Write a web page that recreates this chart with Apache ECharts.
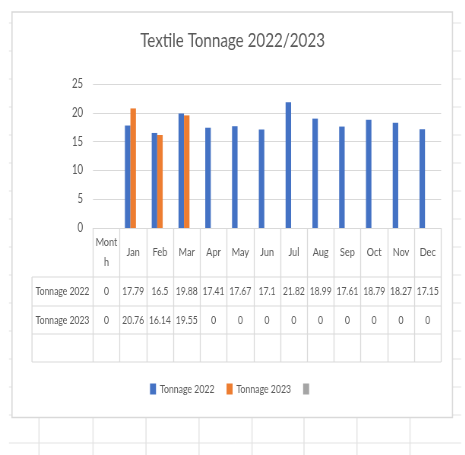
<!DOCTYPE html>
<html>
<head>
<meta charset="utf-8">
<script src="https://cdn.jsdelivr.net/npm/echarts@6/dist/echarts.min.js"></script>
<style>
  html, body { margin: 0; padding: 0; background: #fff; overflow: hidden; }
  #wrap { width: 465px; height: 455px; overflow: hidden; }
  /* the chart is laid out wide and then squeezed horizontally for a condensed look */
  #chart { height: 455px; transform-origin: 0 0; }
</style>
</head>
<body>
<div id="wrap"><div id="chart"></div></div>
<script>
// Monthly textile tonnage, 2022 vs 2023 (first column is the table's "Month" header cell)
const months = ['Month', 'Jan', 'Feb', 'Mar', 'Apr', 'May', 'Jun', 'Jul', 'Aug', 'Sep', 'Oct', 'Nov', 'Dec'];
const tonnage2022 = [0, 17.79, 16.5, 19.88, 17.41, 17.67, 17.1, 21.82, 18.99, 17.61, 18.79, 18.27, 17.15];
const tonnage2023 = [0, 20.76, 16.14, 19.55, 0, 0, 0, 0, 0, 0, 0, 0, 0];
const blankSeries = [];
const seriesNames = ['Tonnage 2022', 'Tonnage 2023', ' '];
const rowLabels = ['Tonnage 2022', 'Tonnage 2023', ''];
const yMin = 0, yMax = 25, yStep = 5;

// Horizontal squeeze factor; layout numbers below are in on-screen pixels
const SX = 0.76;
const sx = x => x / SX;
const W = 465, H = 455;
const plotLeft = 93, plotRight = 441, plotTop = 84, plotBottom = 228;
const tableLeft = 32;
const headerH = 49;
const rowH = [29, 28, 28];
const FONT = "Lato, 'Open Sans', sans-serif";
const TEXT = '#595959';
const LINE = '#D9D9D9';
const SHEET = '#E3E3E3';
const colors = ['#4472C4', '#ED7D31', '#A5A5A5'];

const el = document.getElementById('chart');
el.style.width = sx(W) + 'px';
el.style.transform = 'scaleX(' + SX + ')';

// row boundaries of the data table
const rowTops = [plotBottom + headerH];
rowH.forEach(h => rowTops.push(rowTops[rowTops.length - 1] + h));

const graphics = [];
// spreadsheet cells behind the chart object
for (let y = 23; y <= 444; y += 28) {
  graphics.push({ type: 'line', shape: { x1: sx(9), y1: y, x2: sx(461), y2: y }, style: { stroke: SHEET, lineWidth: 1 }, silent: true });
}
[39, 93, 146, 199, 252, 304, 357, 410].forEach(x => {
  graphics.push({ type: 'line', shape: { x1: sx(x), y1: 418, x2: sx(x), y2: H }, style: { stroke: SHEET, lineWidth: 1.4 }, silent: true });
});
// chart object frame
graphics.push({ type: 'rect', shape: { x: sx(12), y: 12, width: sx(440.5), height: 405.5 }, style: { fill: '#fff', stroke: LINE, lineWidth: 1.6 }, silent: true });
// data table rules
rowTops.forEach(y => {
  graphics.push({ type: 'line', shape: { x1: sx(tableLeft), y1: y, x2: sx(plotRight), y2: y }, style: { stroke: LINE, lineWidth: 1 }, silent: true, z: 5 });
});
graphics.push({ type: 'line', shape: { x1: sx(tableLeft), y1: rowTops[0], x2: sx(tableLeft), y2: rowTops[rowTops.length - 1] }, style: { stroke: LINE, lineWidth: 1.3 }, silent: true, z: 5 });
// row headers
rowLabels.forEach((t, i) => {
  graphics.push({
    type: 'text', z: 6,
    style: { text: t, x: sx((tableLeft + plotLeft) / 2), y: (rowTops[i] + rowTops[i + 1]) / 2, align: 'center', verticalAlign: 'middle', font: '11.3px ' + FONT, fill: TEXT },
    silent: true
  });
});

const tableValues = [tonnage2022, tonnage2023];
const rowAxes = tableValues.map((vals, i) => ({
  type: 'category',
  data: months,
  gridIndex: 0,
  position: 'bottom',
  offset: rowTops[i] - plotBottom,
  axisLine: { show: false },
  axisTick: { show: false },
  splitLine: { show: false },
  axisLabel: {
    interval: 0,
    hideOverlap: false,
    margin: (rowTops[i + 1] - rowTops[i]) / 2,
    verticalAlign: 'middle',
    fontFamily: FONT,
    fontSize: 11.3,
    color: TEXT,
    formatter: (v, idx) => String(vals[idx])
  }
}));

const chart = echarts.init(el, null, { renderer: 'canvas' });
chart.setOption({
  animation: false,
  backgroundColor: '#fff',
  graphic: graphics,
  title: {
    text: 'Textile Tonnage 2022/2023',
    left: 'center',
    top: 31,
    padding: [0, 0, 0, sx(8)],
    textStyle: { fontFamily: FONT, fontSize: 20, fontWeight: 'normal', color: TEXT }
  },
  legend: {
    data: seriesNames,
    top: 378,
    left: 'center',
    icon: 'rect',
    itemWidth: sx(6),
    itemHeight: 11,
    itemGap: sx(12),
    padding: [5, 0, 5, sx(6)],
    textStyle: { fontFamily: FONT, fontSize: 11.5, color: TEXT }
  },
  grid: {
    left: sx(plotLeft), right: sx(W - plotRight), top: plotTop, bottom: H - plotBottom,
    containLabel: false
  },
  xAxis: [{
    type: 'category',
    data: months,
    position: 'bottom',
    axisLine: { lineStyle: { color: LINE, width: 1 } },
    axisTick: { show: true, interval: 0, length: headerH + rowH.reduce((a, b) => a + b, 0), lineStyle: { color: LINE, width: 1.3 } },
    axisLabel: {
      interval: 0,
      hideOverlap: false,
      margin: headerH / 2,
      verticalAlign: 'middle',
      lineHeight: 20,
      fontFamily: FONT,
      fontSize: 12,
      color: TEXT,
      formatter: v => v === 'Month' ? 'Mont\nh' : v
    }
  }].concat(rowAxes),
  yAxis: {
    type: 'value',
    min: yMin,
    max: yMax,
    interval: yStep,
    axisLine: { show: false },
    axisTick: { show: false },
    splitLine: { lineStyle: { color: LINE, width: 1 } },
    axisLabel: { margin: sx(10), fontFamily: FONT, fontSize: 12.5, color: TEXT }
  },
  series: [
    { name: seriesNames[0], type: 'bar', data: tonnage2022, barWidth: sx(5.5), barGap: '0%', itemStyle: { color: colors[0] } },
    { name: seriesNames[1], type: 'bar', data: tonnage2023, barWidth: sx(5.5), barGap: '0%', itemStyle: { color: colors[1] } },
    { name: seriesNames[2], type: 'bar', data: blankSeries, barWidth: sx(5.5), barGap: '0%', itemStyle: { color: colors[2] } }
  ]
});
</script>
</body>
</html>
